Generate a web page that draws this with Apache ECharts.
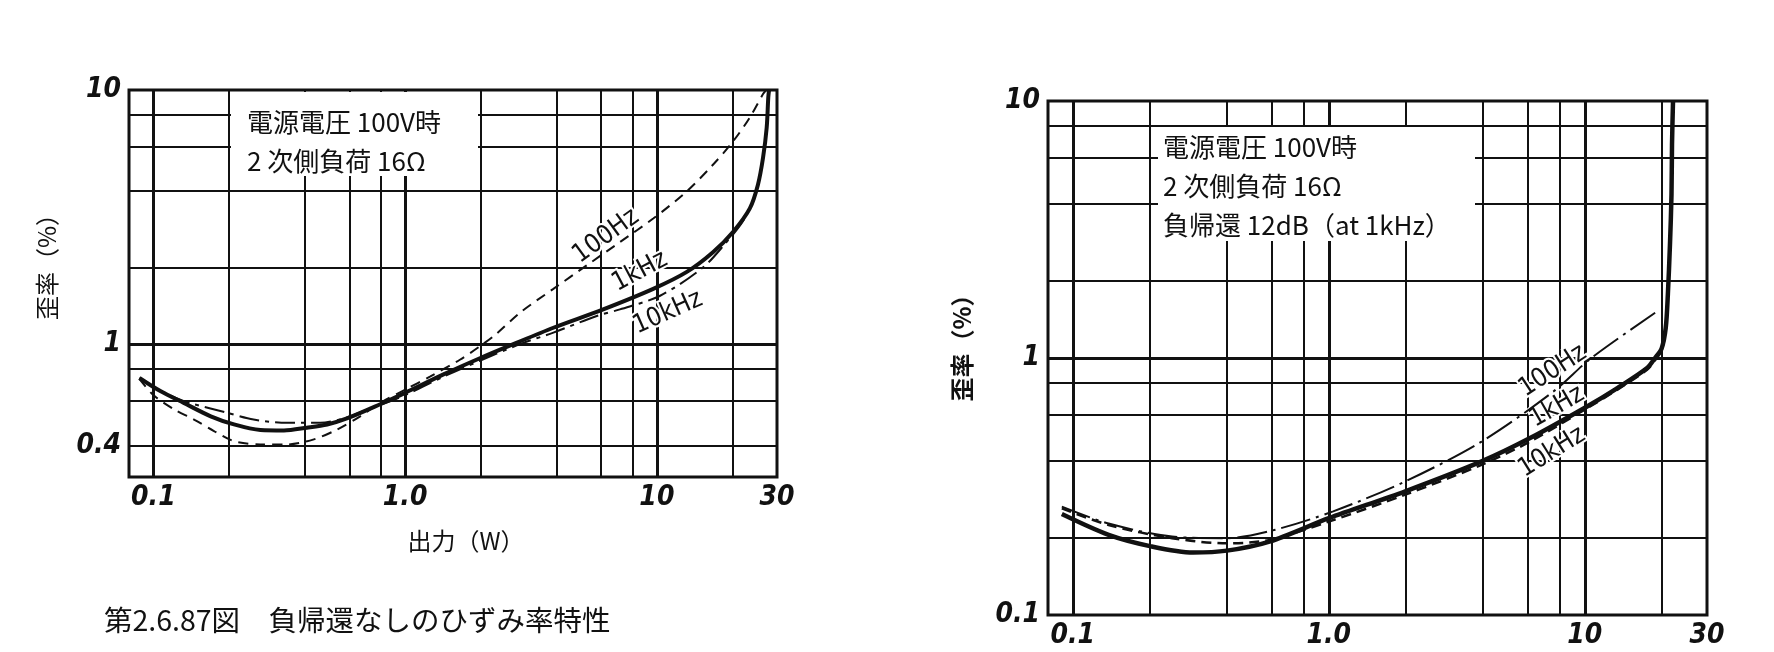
<!DOCTYPE html>
<html><head><meta charset="utf-8">
<script src="https://cdn.jsdelivr.net/npm/echarts@6/dist/echarts.min.js"></script>
<style>html,body{margin:0;padding:0;background:#fff}#c{width:1774px;height:652px}</style>
</head><body><div id="c"></div>
<script>
// ---------- Left chart: no negative feedback ----------
const L_x100 = [0.088, 0.1, 0.121, 0.145, 0.174, 0.209, 0.266, 0.34, 0.434, 0.536, 0.663, 0.796, 1.0, 1.26, 1.65, 1.98, 2.31, 2.86, 3.88, 5.26, 7.13, 9.67, 13.1, 16.7, 20.1, 23.4, 26.4, 27.2];
const L_y100 = [0.73, 0.63, 0.553, 0.505, 0.455, 0.415, 0.403, 0.403, 0.422, 0.461, 0.52, 0.587, 0.662, 0.747, 0.868, 0.98, 1.10, 1.33, 1.65, 2.04, 2.52, 3.12, 3.98, 5.08, 6.29, 7.8, 9.64, 10];
const L_x1k = [0.088, 0.107, 0.132, 0.169, 0.209, 0.266, 0.33, 0.407, 0.49, 0.587, 0.796, 1.0, 1.42, 1.98, 2.69, 3.88, 6.12, 9.67, 13.1, 16.7, 20.1, 23.4, 25.2, 26.4, 27.3, 27.7, 27.9];
const L_y1k = [0.736, 0.652, 0.587, 0.52, 0.483, 0.459, 0.457, 0.469, 0.483, 0.51, 0.58, 0.643, 0.76, 0.88, 1.0, 1.16, 1.37, 1.65, 1.92, 2.30, 2.77, 3.42, 4.24, 5.41, 7.11, 9.35, 10];
const L_x10k = [0.088, 0.107, 0.13, 0.145, 0.196, 0.25, 0.34, 0.46, 0.57, 0.7, 1.0, 1.42, 1.98, 2.86, 3.88, 5.77, 7.13, 10.3, 15.3, 18.9, 21.5, 23.4, 25.2, 26.4, 27.3, 27.7, 27.9];
const L_y10k = [0.736, 0.655, 0.60, 0.58, 0.537, 0.505, 0.49, 0.49, 0.51, 0.55, 0.63, 0.745, 0.86, 1.0, 1.11, 1.29, 1.37, 1.55, 2.01, 2.52, 2.95, 3.42, 4.24, 5.41, 7.11, 9.35, 10];

// ---------- Right chart: 12 dB negative feedback ----------
const R_x100 = [0.0906, 0.138, 0.244, 0.40, 0.61, 1.04, 1.99, 3.95, 7.54, 10.6, 19.2];
const R_y100 = [0.264, 0.227, 0.202, 0.199, 0.214, 0.253, 0.331, 0.473, 0.741, 1.0, 1.52];
const R_x1k = [0.0906, 0.138, 0.202, 0.295, 0.40, 0.586, 1.0, 1.99, 3.95, 6.11, 10.2, 13.4, 17.5, 18.8, 19.95, 20.7, 21.1, 21.5, 21.8, 21.9, 22.1];
const R_y1k = [0.247, 0.205, 0.185, 0.175, 0.178, 0.193, 0.238, 0.303, 0.396, 0.488, 0.648, 0.764, 0.914, 1.0, 1.09, 1.31, 1.77, 2.76, 4.33, 6.77, 10];
const R_x10k = [0.0906, 0.138, 0.244, 0.40, 0.586, 1.0, 1.99, 3.95, 6.11, 10.2, 13.4, 17.5, 18.8, 19.95, 20.7, 21.1, 21.5, 21.8, 21.9, 22.1];
const R_y10k = [0.26, 0.224, 0.199, 0.19, 0.196, 0.231, 0.294, 0.384, 0.473, 0.638, 0.753, 0.90, 0.98, 1.07, 1.28, 1.75, 2.7, 4.3, 6.7, 10];

// ---------- Ticks and grid lines ----------
const L_xTicks = [0.1, 1, 10, 30];
const L_xTickText = ['0.1', '1.0', '10', '30'];
const L_yTicks = [0.4, 1, 10];
const L_yTickText = ['0.4', '1', '10'];
const R_xTicks = [0.1, 1, 10, 30];
const R_xTickText = ['0.1', '1.0', '10', '30'];
const R_yTicks = [0.1, 1, 10];
const R_yTickText = ['0.1', '1', '10'];
const L_gridX = [0.1, 0.2, 0.4, 0.6, 0.8, 1, 2, 4, 6, 8, 10, 20];
const L_gridY = [0.4, 0.6, 0.8, 1, 2, 4, 6, 8];
const R_gridX = [0.1, 0.2, 0.4, 0.6, 0.8, 1, 2, 4, 6, 8, 10, 20];
const R_gridY = [0.2, 0.4, 0.6, 0.8, 1, 2, 4, 6, 8];

// ---------- Texts ----------
const L_note = ['電源電圧 100V時', '2 次側負荷 16Ω'];
const R_note = ['電源電圧 100V時', '2 次側負荷 16Ω', '負帰還 12dB（at 1kHz）'];
const Y_NAME = '歪率（%）';
const X_NAME = '出力（W）';
const CAPTION = '第2.6.87図　負帰還なしのひずみ率特性';

const NUM_FONT = '"Liberation Sans Narrow","DejaVu Sans Condensed","Liberation Sans",sans-serif';
const JP_FONT = '"Noto Sans CJK JP","Noto Sans CJK SC",sans-serif';
const BLACK = '#111';

function isDecade(v){ const l = Math.log10(v); return Math.abs(l - Math.round(l)) < 1e-9; }
function tickFormatter(ticks, texts){
  return function(v){
    for (let i = 0; i < ticks.length; i++) {
      if (Math.abs(Math.log10(v) - Math.log10(ticks[i])) < 1e-6) return texts[i];
    }
    return '';
  };
}
const tickStyle = {color: BLACK, fontFamily: NUM_FONT, fontStyle: 'italic', fontWeight: 'bold', fontSize: 28};

function gridLineData(gx, gy, yTicks, yTexts){
  const d = [];
  gx.forEach(v => d.push({xAxis: v, lineStyle: {width: isDecade(v) ? 3 : 2}}));
  gy.forEach(v => {
    const item = {yAxis: v, lineStyle: {width: isDecade(v) ? 3 : 2}};
    const k = yTicks.indexOf(v);
    if (k >= 0 && !isDecade(v)) {
      item.label = Object.assign({show: true, position: 'start', formatter: yTexts[k], distance: 8}, tickStyle);
    }
    d.push(item);
  });
  return d;
}
function gridSeries(ax, gx, gy, yTicks, yTexts){
  return {type: 'line', xAxisIndex: ax, yAxisIndex: ax, data: [], z: 1, silent: true,
    markLine: {silent: true, animation: false, symbol: ['none', 'none'], label: {show: false},
      lineStyle: {color: BLACK, type: 'solid', width: 2}, data: gridLineData(gx, gy, yTicks, yTexts)}};
}
function curve(name, xs, ys, ax, style){
  return {type: 'line', name: name, xAxisIndex: ax, yAxisIndex: ax, z: 5, silent: true,
    data: xs.map((x, i) => [x, ys[i]]), showSymbol: false, symbol: 'none', smooth: 0.3,
    lineStyle: Object.assign({color: BLACK}, style)};
}
function labelSeries(ax, labels){
  return {type: 'line', xAxisIndex: ax, yAxisIndex: ax, data: [], z: 4, silent: true,
    markPoint: {symbol: 'circle', symbolSize: 0, silent: true, animation: false,
      label: {show: true, position: 'inside', color: BLACK, fontFamily: NUM_FONT, fontSize: 26,
        textBorderColor: '#fff', textBorderWidth: 4, formatter: '{b}'},
      data: labels}};
}
function xAxisCfg(ax, ticks, texts){
  return {gridIndex: ax, type: 'log', logBase: 10, min: 0.08, max: 30,
    axisLine: {show: false}, axisTick: {show: false}, splitLine: {show: false},
    axisLabel: Object.assign({margin: 7, showMinLabel: true, showMaxLabel: true, formatter: tickFormatter(ticks, texts)}, tickStyle)};
}
function yAxisCfg(ax, min, ticks, texts){
  return {gridIndex: ax, type: 'log', logBase: 10, min: min, max: 10,
    axisLine: {show: false}, axisTick: {show: false}, splitLine: {show: false},
    axisLabel: Object.assign({margin: 8, formatter: tickFormatter(ticks, texts)}, tickStyle)};
}
function noteGraphics(lines, x0, y0, dy, box){
  const g = [{type: 'rect', z: 10, shape: box, style: {fill: '#fff'}}];
  lines.forEach((t, i) => g.push({type: 'text', z: 11, x: x0, y: y0 + i * dy,
    style: {text: t, font: '26px ' + JP_FONT, fill: BLACK, textAlign: 'left', textVerticalAlign: 'middle'}}));
  return g;
}

const chart = echarts.init(document.getElementById('c'), null, {renderer: 'canvas', width: 1774, height: 652});
chart.setOption({
  animation: false,
  backgroundColor: '#fff',
  grid: [
    {left: 129, top: 90, width: 648, height: 387, show: true, borderColor: BLACK, borderWidth: 3, backgroundColor: 'transparent'},
    {left: 1048, top: 101, width: 659, height: 514, show: true, borderColor: BLACK, borderWidth: 3, backgroundColor: 'transparent'}
  ],
  xAxis: [xAxisCfg(0, L_xTicks, L_xTickText), xAxisCfg(1, R_xTicks, R_xTickText)],
  yAxis: [yAxisCfg(0, 0.3, L_yTicks, L_yTickText), yAxisCfg(1, 0.1, R_yTicks, R_yTickText)],
  series: [
    gridSeries(0, L_gridX, L_gridY, L_yTicks, L_yTickText),
    gridSeries(1, R_gridX, R_gridY, R_yTicks, R_yTickText),
    labelSeries(0, [
      {name: '100Hz', coord: [6.28, 2.66], label: {rotate: 36}},
      {name: '1kHz', coord: [8.56, 1.93], label: {rotate: 28}},
      {name: '10kHz', coord: [11.06, 1.33], label: {rotate: 24}}
    ]),
    labelSeries(1, [
      {name: '100Hz', coord: [7.5, 0.89], label: {rotate: 33}},
      {name: '1kHz', coord: [7.78, 0.645], label: {rotate: 30}},
      {name: '10kHz', coord: [7.44, 0.43], label: {rotate: 32}}
    ]),
    curve('100Hz', L_x100, L_y100, 0, {width: 2, type: [10, 7]}),
    curve('1kHz', L_x1k, L_y1k, 0, {width: 4, type: 'solid'}),
    curve('10kHz', L_x10k, L_y10k, 0, {width: 2, type: [20, 6, 4, 6]}),
    curve('100Hz', R_x100, R_y100, 1, {width: 2, type: [30, 6, 3, 6]}),
    curve('1kHz', R_x1k, R_y1k, 1, {width: 4.5, type: 'solid'}),
    curve('10kHz', R_x10k, R_y10k, 1, {width: 2.5, type: [10, 6]})
  ],
  graphic: [].concat(
    noteGraphics(L_note, 247, 122, 39, {x: 231, y: 92, width: 247, height: 84}),
    noteGraphics(R_note, 1163, 147, 39, {x: 1158, y: 127, width: 317, height: 114}),
    [
      {type: 'text', z: 11, x: 47, y: 261, rotation: Math.PI / 2,
        style: {text: Y_NAME, font: '24px ' + JP_FONT, fill: BLACK, textAlign: 'center', textVerticalAlign: 'middle'}},
      {type: 'text', z: 11, x: 962, y: 342, rotation: Math.PI / 2,
        style: {text: Y_NAME, font: 'bold 24px ' + JP_FONT, fill: BLACK, textAlign: 'center', textVerticalAlign: 'middle'}},
      {type: 'text', z: 11, x: 466, y: 541,
        style: {text: X_NAME, font: '24px ' + JP_FONT, fill: BLACK, textAlign: 'center', textVerticalAlign: 'middle'}},
      {type: 'text', z: 11, x: 104, y: 620,
        style: {text: CAPTION, font: '28.5px ' + JP_FONT, fill: BLACK, textAlign: 'left', textVerticalAlign: 'middle'}}
    ]
  )
});
</script></body></html>
